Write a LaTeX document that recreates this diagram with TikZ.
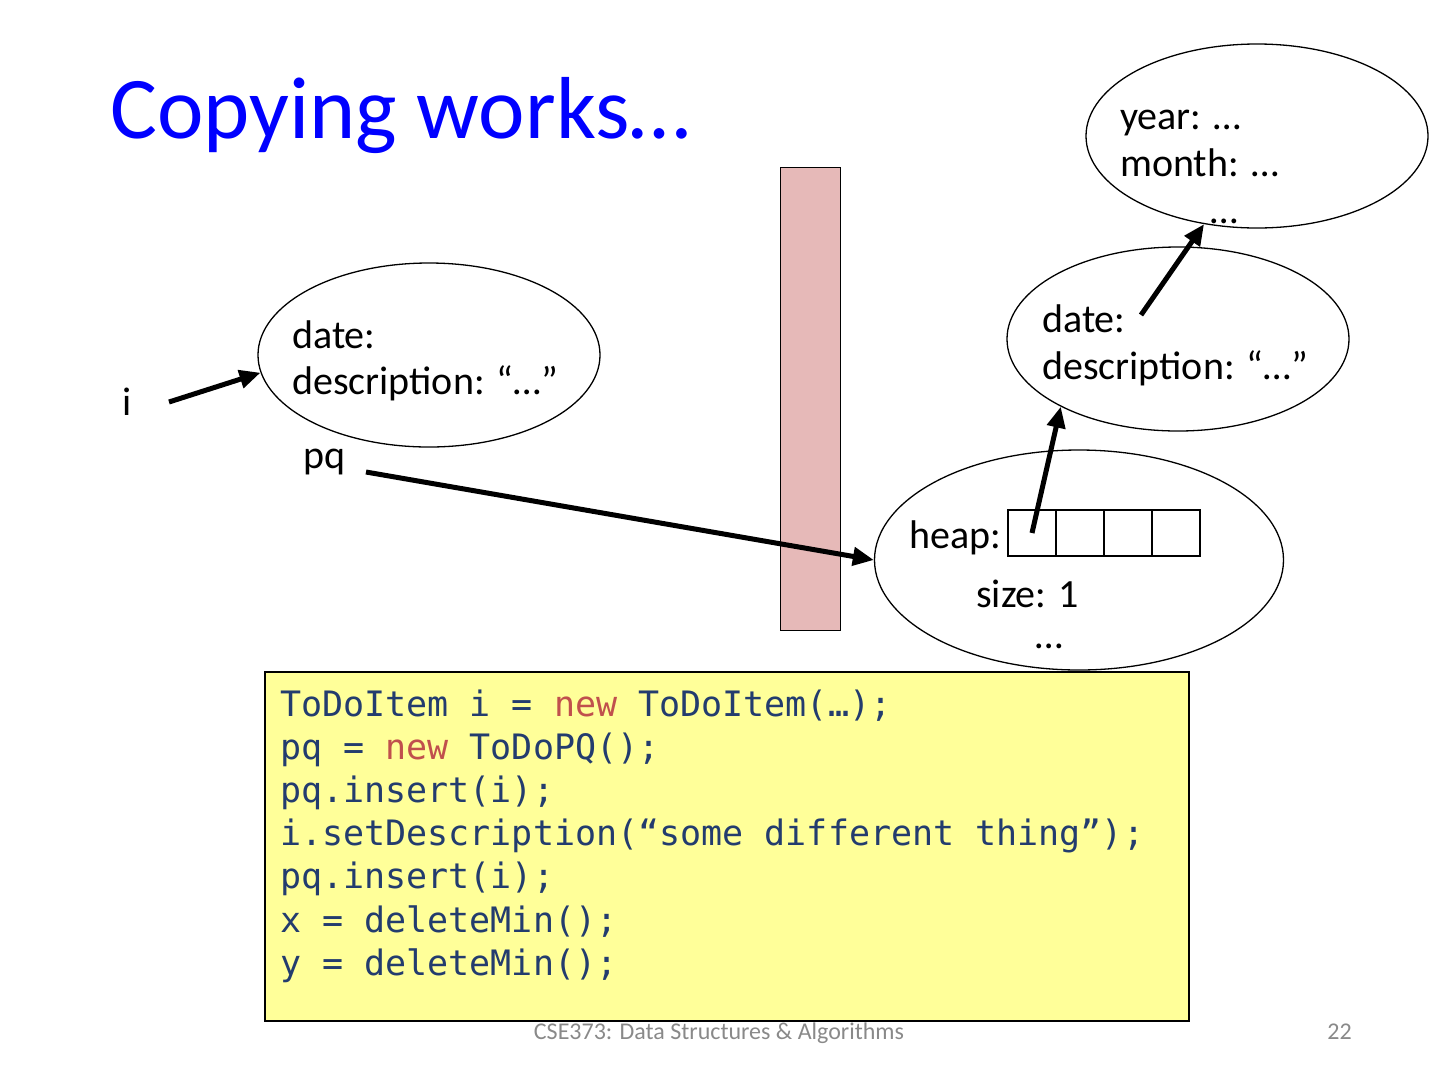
\documentclass[tikz,border=0pt]{standalone}
\usepackage{fontspec}
\setmainfont{Carlito}
\newfontfamily\codefont{DejaVu Sans Mono}
\usetikzlibrary{shapes.geometric,arrows.meta}
\definecolor{titleblue}{RGB}{0,0,255}
\definecolor{stackpink}{RGB}{230,185,184}
\definecolor{codebg}{RGB}{255,255,153}
\definecolor{codeblue}{RGB}{35,60,110}
\definecolor{codered}{RGB}{192,80,77}
\definecolor{footgray}{RGB}{137,137,137}
\tikzset{
  obj/.style={draw, ellipse, line width=1.3pt, inner sep=0pt, minimum width=342pt, minimum height=184pt},
  lbl/.style={inner sep=0pt, anchor=base west, font=\fontsize{40}{47}\selectfont},
  codeline/.style={inner sep=0pt, anchor=base west, text=codeblue, font=\codefont\fontsize{35}{43}\selectfont},
  cell/.style={draw, line width=1.5pt, minimum width=48pt, minimum height=46pt, inner sep=0pt, outer sep=0pt},
  ptr/.style={line width=5pt, -{Triangle[length=21pt,width=18pt]}},
  foot/.style={inner sep=0pt, anchor=base, text=footgray, font=\fontsize{24}{28}\selectfont}
}
\newcommand{\kw}[1]{\textcolor{codered}{#1}}
\begin{document}
\begin{tikzpicture}[x=1pt,y=-1pt]
\useasboundingbox (0,0) rectangle (1440,1080);
% title
\node[inner sep=0pt, anchor=base west, text=titleblue, font=\fontsize{88}{100}\selectfont] (title) at (110,138) {Copying works…};
% stack frame
\node[draw, line width=1pt, fill=stackpink, minimum width=60pt, minimum height=463pt, inner sep=0pt] (stack) at (810,398.5) {};
% objects
\node[obj] (e1) at (1257,136) {};
\node[obj] (e2) at (1178,339) {};
\node[obj] (e3) at (429,355) {};
\node[obj, minimum width=409pt, minimum height=220pt] (e4) at (1079,560) {};
% texts in e1
\node[lbl] (year) at (1120,129) {year: …};
\node[lbl] (month) at (1120,176) {month: …};
\node[lbl] (dots1) at (1210,223) {…};
% texts in e2
\node[lbl] (date2) at (1042,332) {date:};
\node[lbl] (desc2) at (1042,379) {description: “…”};
% texts in e3
\node[lbl] (date3) at (292,348) {date:};
\node[lbl] (desc3) at (292,394) {description: “…”};
% variables
\node[lbl] (i) at (122,415) {i};
\node[lbl] (pq) at (303,468) {pq};
% heap object
\node[lbl] (heap) at (909,548) {heap:};
\node[cell] (c1) at (1032,533) {};
\node[cell] (c2) at (1080,533) {};
\node[cell] (c3) at (1128,533) {};
\node[cell] (c4) at (1176,533) {};
\node[lbl] (size) at (976,607) {size: 1};
\node[lbl] (dots4) at (1035,648) {…};
% pointers
\coordinate (istart) at (169,402);
\coordinate (pqstart) at (366,472);
\coordinate (datestart) at (1141,315);
\draw[ptr] (istart) -- (e3.186);
\draw[ptr] (pqstart) -- (e4.west);
\draw[ptr] (c1.center) -- (e2.210);
\draw[ptr] (datestart) -- (e1.239.4);
% code box
\node[draw, line width=2pt, fill=codebg, minimum width=924pt, minimum height=349pt, inner sep=0pt, anchor=north west] (code) at (264,671) {};
\node[codeline] (l1) at (280,716) {ToDoItem i = \kw{new} ToDoItem(…);};
\node[codeline] (l2) at (280,759.2) {pq = \kw{new} ToDoPQ();};
\node[codeline] (l3) at (280,802.4) {pq.insert(i);};
\node[codeline] (l4) at (280,845.6) {i.setDescription(“some different thing”);};
\node[codeline] (l5) at (280,888.8) {pq.insert(i);};
\node[codeline] (l6) at (280,932) {x = deleteMin();};
\node[codeline] (l7) at (280,975.2) {y = deleteMin();};
% footer
\node[foot] (course) at (719,1039) {CSE373: Data Structures \& Algorithms};
\node[foot, anchor=base east] (pagenum) at (1352,1039) {22};
\end{tikzpicture}
\end{document}
